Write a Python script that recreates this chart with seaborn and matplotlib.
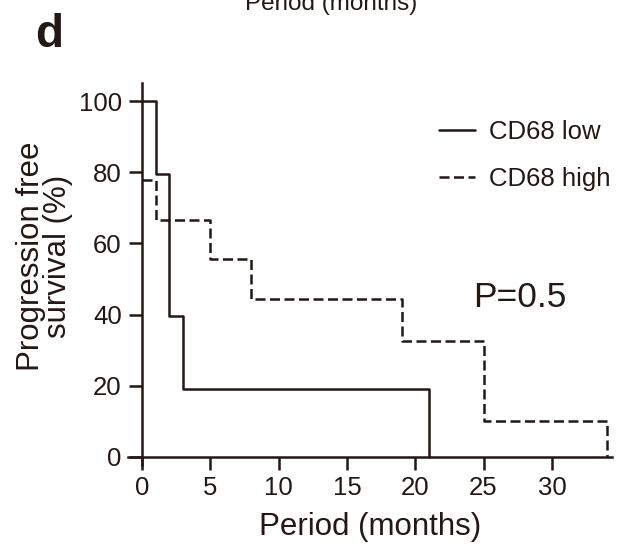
import matplotlib
matplotlib.use("Agg")
import matplotlib.pyplot as plt
import seaborn as sns
import pandas as pd

# Data
low_time = [0, 1, 2, 3, 21]
low_surv = [100, 79.6, 39.6, 19.2, 0]
high_time = [0, 1, 5, 8, 19, 25, 34]
high_surv = [77.8, 66.7, 55.6, 44.4, 32.7, 10.2, 0]
x_ticks = [0, 5, 10, 15, 20, 25, 30]
y_ticks = [0, 20, 40, 60, 80, 100]
labels = ["CD68 low", "CD68 high"]

sns.set_style("ticks")
plt.rcParams["font.family"] = ["Liberation Sans", "DejaVu Sans"]
INK = "#231815"
LW = 1.8

fig = plt.figure(figsize=(6.17, 5.49), dpi=100)
ax = fig.add_axes([128 / 617, 1 - 465 / 549, (612 - 128) / 617, (465 - 83) / 549])

low_df = pd.DataFrame({"t": low_time, "s": low_surv})
high_df = pd.DataFrame({"t": high_time, "s": high_surv})
sns.lineplot(data=low_df, x="t", y="s", ax=ax, drawstyle="steps-post",
             color=INK, lw=LW, label=labels[0], estimator=None)
sns.lineplot(data=high_df, x="t", y="s", ax=ax, drawstyle="steps-post",
             color=INK, lw=LW, label=labels[1], estimator=None,
             linestyle=(0, (4.0, 1.8)))

ax.set_xlim(-1.02, 34.4)
ax.set_ylim(-2.25, 105.1)
ax.spines["left"].set_position(("data", 0))
ax.spines["bottom"].set_position(("data", 0))
for s in ["top", "right"]:
    ax.spines[s].set_visible(False)
for s in ["left", "bottom"]:
    ax.spines[s].set_linewidth(LW)
    ax.spines[s].set_color(INK)
ax.set_xticks(x_ticks)
ax.set_yticks(y_ticks)
ax.tick_params(axis="both", length=9.5, width=LW, color=INK, labelsize=18.5,
               labelcolor=INK)
ax.tick_params(axis="y", pad=5)
ax.tick_params(axis="x", pad=4)

ax.set_xlabel("Period (months)", fontsize=22.5, color=INK, labelpad=9)
ax.set_ylabel("Progression free\nsurvival (%)", fontsize=22.5, color=INK,
              linespacing=0.85)
ax.yaxis.set_label_coords((73 - 128) / 484, 0.547)

leg = ax.legend(loc="upper left", bbox_to_anchor=(439 / 617, 1 - 120 / 549),
                bbox_transform=fig.transFigure, frameon=False, fontsize=18.5,
                handlelength=1.4, handletextpad=0.55, labelspacing=0.9,
                borderpad=0, borderaxespad=0)
for t in leg.get_texts():
    t.set_color(INK)

ax.text(473, 549 - 307, "P=0.5", transform=None, fontsize=25.5, color=INK,
        va="baseline", ha="left")

fig.text(35 / 617, 1 - 47 / 549, "d", fontsize=33, fontweight="bold",
         color=INK, va="baseline", ha="left")
fig.text(331 / 617, 1 - 10 / 549, "Period (months)", fontsize=17.5, color=INK,
         va="baseline", ha="center")

fig.savefig("out.png", dpi=100)
